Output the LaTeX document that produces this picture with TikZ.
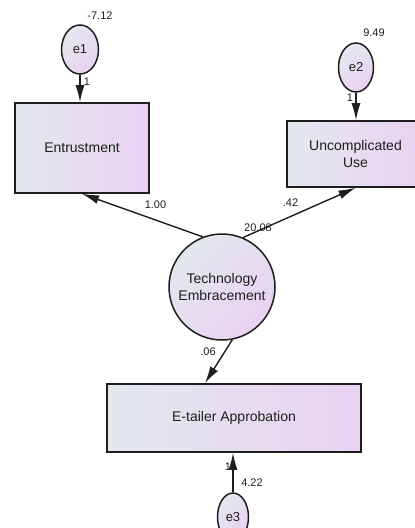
\documentclass[tikz,border=0pt]{standalone}
\usepackage{fontspec}
\setmainfont{Liberation Sans}
\usetikzlibrary{shapes.geometric,arrows.meta,calc}
\definecolor{gl}{HTML}{E3E8EE}
\definecolor{gr}{HTML}{E9D2F2}
\definecolor{ink}{HTML}{1E1E1E}
\begin{document}
\begin{tikzpicture}[x=1pt,y=-1pt,
  obs/.style={draw=ink,line width=1.6pt,rectangle,left color=gl,right color=gr,
    inner sep=0pt,font=\fontsize{14}{17.5}\selectfont,text=ink,align=center},
  err/.style={draw=ink,line width=1.5pt,ellipse,left color=gl,right color=gr,shading angle=45,
    inner sep=0pt,font=\fontsize{13}{15}\selectfont,text=ink},
  lat/.style={draw=ink,line width=1.5pt,circle,left color=gl,right color=gr,shading angle=45,
    inner sep=0pt,minimum size=106pt,font=\fontsize{14}{17.5}\selectfont,text=ink,align=center},
  conn/.style={draw=ink,line width=1.4pt,-{Latex[length=17pt,width=9pt]}},
  lbl/.style={font=\fontsize{11}{12}\selectfont,text=ink,inner sep=0pt}]
\useasboundingbox (0,0) rectangle (415,528);
\clip (0,0) rectangle (415,528);
% nodes
\node[err,minimum width=37pt,minimum height=49pt] (e1) at (80,49.5) {e1};
\node[err,minimum width=35pt,minimum height=49pt] (e2) at (356,67.5) {e2};
\node[err,minimum width=31pt,minimum height=48pt] (e3) at (233,517) {e3};
\node[obs,minimum width=134pt,minimum height=90pt] (ent) at (82,148) {Entrustment};
\node[obs,minimum width=137pt,minimum height=66pt] (unc) at (355.5,154) {Uncomplicated\\Use};
\node[obs,minimum width=254pt,minimum height=68pt] (eta) at (234,418) {E-tailer Approbation};
\node[lat] (te) at (222,287) {Technology\\Embracement};
% connectors
\draw[conn] (e1.south) -- (e1.south |- ent.north);
\draw[conn] (e2.south) -- (e2.south |- unc.north);
\draw[conn] (e3.north) -- (e3.north |- eta.south);
\draw[conn] (te.111) -- (ent.south);
\draw[conn] (te.67) -- (unc.south);
\draw[conn] (te.281) -- ([xshift=-29pt]eta.north);
% labels
\node[lbl] (l1) at (100,16) {-7.12};
\node[lbl] (l2) at (87,82) {1};
\node[lbl] (l3) at (374,33) {9.49};
\node[lbl] (l4) at (350,98) {1};
\node[lbl] (l5) at (155.5,205) {1.00};
\node[lbl] (l6) at (290.5,203) {.42};
\node[lbl] (l7) at (258,228) {20.08};
\node[lbl] (l8) at (208,352) {.06};
\node[lbl] (l9) at (228,467) {1};
\node[lbl] (l10) at (252,483) {4.22};
\end{tikzpicture}
\end{document}
